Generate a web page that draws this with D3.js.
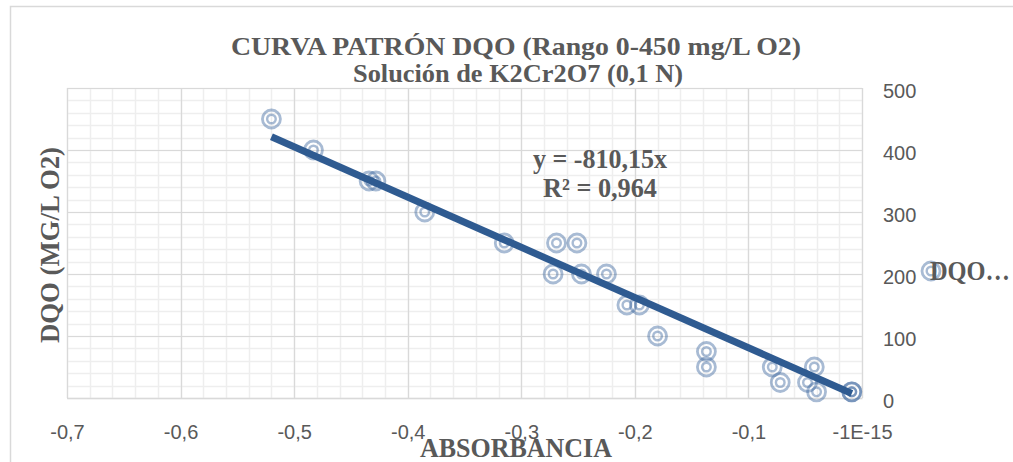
<!DOCTYPE html>
<html><head><meta charset="utf-8">
<script src="https://cdn.jsdelivr.net/npm/d3@7"></script>
<style>
html,body{margin:0;padding:0;background:#fff;}
svg{display:block;}
</style></head>
<body>
<svg id="chart" width="1013" height="462"></svg>
<script>
// ---- data ----
const absorbance = [-0.520, -0.483, -0.434, -0.428, -0.385, -0.315, -0.269, -0.251, -0.272, -0.247, -0.225, -0.207, -0.196, -0.180, -0.137, -0.137, -0.079, -0.072, -0.042, -0.048, -0.040, -0.009, -0.009];
const dqo        = [450, 400, 350, 350, 300, 250, 250, 250, 200, 200, 200, 150, 150, 100, 75, 50, 50, 25, 50, 25, 10, 10, 10];
const xTickValues = [-0.7, -0.6, -0.5, -0.4, -0.3, -0.2, -0.1, 0];
const xTickLabels = ["-0,7", "-0,6", "-0,5", "-0,4", "-0,3", "-0,2", "-0,1", "-1E-15"];
const yTickValues = [0, 100, 200, 300, 400, 500];
const slope = -810.15;
const titleLines = ["CURVA PATRÓN DQO (Rango 0-450 mg/L O2)", "Solución de K2Cr2O7 (0,1 N)"];
const equationLines = ["y = -810,15x", "R² = 0,964"];
const xTitle = "ABSORBANCIA";
const yTitle = "DQO (MG/L O2)";
const legendLabel = "DQO…";

const svg = d3.select("#chart");
const plot = {left: 67, right: 862, top: 88, bottom: 398};
const x = d3.scaleLinear().domain([-0.7, 0]).range([plot.left, plot.right]);
const y = d3.scaleLinear().domain([0, 500]).range([plot.bottom, plot.top]);

const textGray = "#595959";
const serif = "'Liberation Serif', 'Times New Roman', serif";
const sans = "'Liberation Sans', Arial, sans-serif";

// chart border
svg.append("rect").attr("x", 10.5).attr("y", 6.5).attr("width", 1100).attr("height", 600)
  .attr("fill", "none").attr("stroke", "#d9d9d9").attr("stroke-width", 1.5);

// minor gridlines
const g = svg.append("g");
const xMinor = d3.range(-0.7, 0.0001, 0.02).map(v => +v.toFixed(3));
const yMinor = d3.range(0, 500.1, 20);
g.selectAll(".xm").data(xMinor).join("line")
  .attr("x1", d => Math.round(x(d)) + 0.5).attr("x2", d => Math.round(x(d)) + 0.5)
  .attr("y1", plot.top).attr("y2", plot.bottom)
  .attr("stroke", "#eeeeee").attr("stroke-width", 1.5);
g.selectAll(".ym").data(yMinor).join("line")
  .attr("y1", d => Math.round(y(d)) + 0.5).attr("y2", d => Math.round(y(d)) + 0.5)
  .attr("x1", plot.left).attr("x2", plot.right)
  .attr("stroke", "#eeeeee").attr("stroke-width", 1.5);
// major gridlines
g.selectAll(".xM").data(xTickValues).join("line")
  .attr("x1", d => Math.round(x(d)) + 0.5).attr("x2", d => Math.round(x(d)) + 0.5)
  .attr("y1", plot.top).attr("y2", plot.bottom)
  .attr("stroke", "#d9d9d9").attr("stroke-width", 1.2);
g.selectAll(".yM").data(yTickValues).join("line")
  .attr("y1", d => Math.round(y(d)) + 0.5).attr("y2", d => Math.round(y(d)) + 0.5)
  .attr("x1", plot.left).attr("x2", plot.right)
  .attr("stroke", "#d9d9d9").attr("stroke-width", 1.2);

// x axis (labels below)
const xAxis = d3.axisBottom(x).tickValues(xTickValues)
  .tickFormat((d, i) => xTickLabels[i]).tickSize(0).tickPadding(0);
const xg = svg.append("g").attr("transform", `translate(0,${plot.bottom})`).call(xAxis);
xg.select(".domain").attr("stroke", "#d9d9d9").attr("stroke-width", 1.5);
xg.selectAll("text").attr("dy", null).attr("y", 41)
  .attr("fill", textGray).style("font-family", sans).style("font-size", "20px");

// y axis labels on the right
const yAxis = d3.axisRight(y).tickValues(yTickValues).tickSize(0).tickPadding(0);
const yg = svg.append("g").attr("transform", `translate(883,0)`).call(yAxis);
yg.select(".domain").remove();
yg.selectAll("text").attr("dy", "0.35em").attr("y", 2).attr("x", 0)
  .attr("text-anchor", "start")
  .attr("fill", textGray).style("font-family", sans).style("font-size", "20px");

// markers
function marker(sel) {
  sel.append("circle").attr("r", 9).attr("fill", "none")
    .attr("stroke", "#3f68a0").attr("stroke-opacity", 0.45).attr("stroke-width", 2.8);
  sel.append("circle").attr("r", 4.3).attr("fill", "none")
    .attr("stroke", "#3f68a0").attr("stroke-opacity", 0.45).attr("stroke-width", 2.4);
}
const pts = absorbance.map((a, i) => ({a, v: dqo[i]}));
svg.append("g").selectAll("g").data(pts).join("g")
  .attr("transform", d => `translate(${x(d.a)},${y(d.v)})`)
  .call(marker);

// trendline
const xExt = d3.extent(absorbance);
svg.append("line")
  .attr("x1", x(xExt[0])).attr("y1", y(slope * xExt[0]))
  .attr("x2", x(xExt[1])).attr("y2", y(slope * xExt[1]))
  .attr("stroke", "#2f5b91").attr("stroke-width", 7);

function boldText(txt, px, py, size, len, anchor) {
  return svg.append("text").attr("x", px).attr("y", py).attr("text-anchor", anchor || "middle")
    .attr("fill", textGray).style("font-family", serif).style("font-weight", "bold")
    .style("font-size", size + "px")
    .attr("textLength", len).attr("lengthAdjust", "spacingAndGlyphs").text(txt);
}

// equation
boldText(equationLines[0], 600, 168, 27, 134);
boldText(equationLines[1], 600, 197, 27, 114);

// title
boldText(titleLines[0], 516, 55, 26, 570);
boldText(titleLines[1], 518, 82, 26, 330);

// axis titles
boldText(xTitle, 516, 457, 28, 192);
svg.append("text").attr("transform", "translate(59,245) rotate(-90)").attr("text-anchor", "middle")
  .attr("fill", textGray).style("font-family", serif).style("font-weight", "bold").style("font-size", "27px")
  .attr("textLength", 196).attr("lengthAdjust", "spacingAndGlyphs").text(yTitle);

// legend
svg.append("g").attr("transform", "translate(931,271)").call(marker);
boldText(legendLabel, 930, 280, 27, 80, "start");
</script>
</body></html>
